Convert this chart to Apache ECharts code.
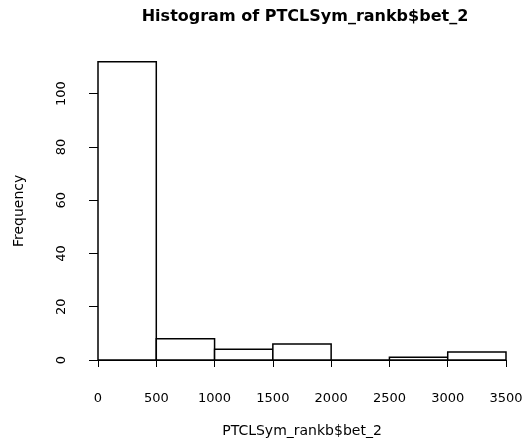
<!DOCTYPE html>
<html>
<head>
<meta charset="utf-8">
<script src="https://cdn.jsdelivr.net/npm/echarts@6/dist/echarts.min.js"></script>
<style>
  html, body { margin: 0; padding: 0; background: #fff; }
  #hist { width: 527px; height: 443px; }
</style>
</head>
<body>
<div id="hist"></div>
<script>
// histogram bins (breaks) and counts
var binStart = [0, 500, 1000, 1500, 2000, 2500, 3000];
var binEnd = [500, 1000, 1500, 2000, 2500, 3000, 3500];
var counts = [112, 8, 4, 6, 0, 1, 3];
var yTicks = [0, 20, 40, 60, 80, 100];

var rows = [];
for (var i = 0; i < counts.length; i++) {
    rows.push([binStart[i], binEnd[i], counts[i]]);
}

var myChart = echarts.init(document.getElementById('hist'));
var font = 'DejaVu Sans';

option = {
    animation: false,
    backgroundColor: '#fff',
    title: {
        text: 'Histogram of PTCLSym_rankb$bet_2',
        left: 300,
        top: 4,
        textAlign: 'center',
        textStyle: { fontFamily: font, fontWeight: 'bold', fontSize: 16, color: '#000' }
    },
    grid: { left: 98, right: 21, top: 61.7, bottom: 81.3 },
    xAxis: {
        type: 'value',
        min: 0,
        max: 3500,
        interval: 500,
        offset: 12,
        name: 'PTCLSym_rankb$bet_2',
        nameLocation: 'middle',
        nameGap: 52,
        nameTextStyle: { fontFamily: font, fontSize: 14, color: '#000' },
        splitLine: { show: false },
        axisLine: { lineStyle: { color: '#000', width: 1 } },
        axisTick: { length: 7, lineStyle: { color: '#000', width: 1 } },
        axisLabel: {
            margin: 20, fontFamily: font, fontSize: 13, color: '#000',
            formatter: function (v) { return String(v); }
        }
    },
    yAxis: {
        type: 'value',
        min: 0,
        max: 112,
        offset: 14,
        name: 'Frequency',
        nameLocation: 'middle',
        nameGap: 58,
        nameTextStyle: { fontFamily: font, fontSize: 14, color: '#000' },
        splitLine: { show: false },
        axisLine: { show: false },
        axisTick: { show: true, length: 9, customValues: yTicks, lineStyle: { color: '#000', width: 1 } },
        axisLabel: { rotate: 90, margin: 16, customValues: yTicks, fontFamily: font, fontSize: 13, color: '#000' }
    },
    series: [{
        type: 'custom',
        data: rows,
        encode: { x: [0, 1], y: 2 },
        renderItem: function (params, api) {
            var p0 = api.coord([api.value(0), 0]);
            var p1 = api.coord([api.value(1), api.value(2)]);
            return {
                type: 'rect',
                shape: { x: p0[0], y: p1[1], width: p1[0] - p0[0], height: p0[1] - p1[1] },
                style: { fill: '#fff', stroke: '#000', lineWidth: 1.5 }
            };
        }
    }]
};
myChart.setOption(option);
</script>
</body>
</html>
